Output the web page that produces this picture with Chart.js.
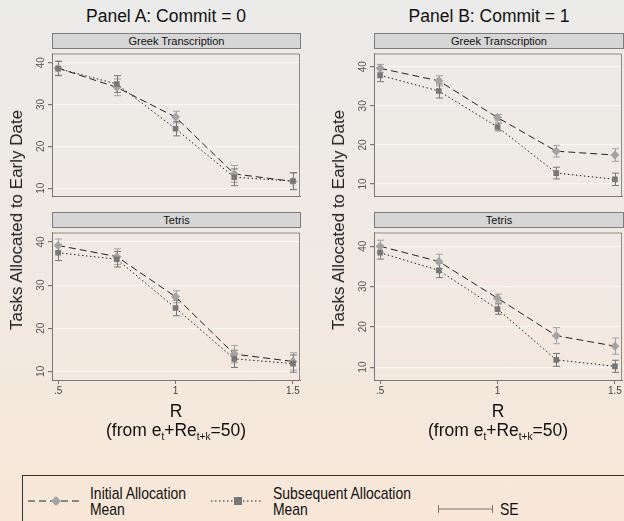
<!DOCTYPE html>
<html>
<head>
  <title>Tasks Allocated to Early Date</title>
  <script src="https://cdn.jsdelivr.net/npm/chart.js"></script>
  <style>
    body {
      margin: 0;
      width: 624px;
      height: 521px;
      overflow: hidden;
      position: relative;
      background: linear-gradient(to bottom, #ebebea 0%, #f1e9e2 55%, #f8e7d7 100%);
      font-family: "Liberation Sans", Arial, sans-serif;
      color: #111;
    }
    .abs { position: absolute; }
    canvas { position: absolute; }
    .title {
      font-size: 17.5px;
      white-space: nowrap;
      transform: translateX(-50%);
    }
    .strip {
      box-sizing: border-box;
      height: 16px;
      border: 1px solid #7c7c7c;
      background: #d6d6d6;
      font-size: 11px;
      line-height: 14px;
      text-align: center;
    }
    .ytitle {
      font-size: 17px;
      white-space: nowrap;
      color: #222;
      transform: translate(-50%, -50%) rotate(-90deg);
    }
    .xtitle {
      font-size: 17.5px;
      white-space: nowrap;
      transform: translateX(-50%);
      line-height: 19px;
      text-align: center;
    }
    .xtitle .sub { font-size: 10px; position: relative; top: 4px; }
    .legend {
      left: 22px;
      top: 475px;
      width: 640px;
      height: 60px;
      box-sizing: border-box;
      border: 1px solid #333;
    }
    .ltext {
      font-size: 17px;
      line-height: 16px;
      white-space: nowrap;
      transform: scaleX(0.82);
      transform-origin: 0 0;
    }
  </style>
</head>
<body>
  <div class="abs title" style="left:166px; top:6px;">Panel A: Commit = 0</div>
  <div class="abs title" style="left:489px; top:6px;">Panel B: Commit = 1</div>

  <div class="abs strip" style="left:52px; top:33px; width:249px;">Greek Transcription</div>
  <div class="abs strip" style="left:52px; top:212px; width:249px;">Tetris</div>
  <div class="abs strip" style="left:374px; top:33px; width:250px;">Greek Transcription</div>
  <div class="abs strip" style="left:374px; top:212px; width:250px;">Tetris</div>

  <canvas id="aGreek" width="284" height="152" style="left:22px; top:49px;"></canvas>
  <canvas id="aTetris" width="284" height="174" style="left:22px; top:228px;"></canvas>
  <canvas id="bGreek" width="284" height="152" style="left:344px; top:49px;"></canvas>
  <canvas id="bTetris" width="284" height="174" style="left:344px; top:228px;"></canvas>

  <div class="abs ytitle" style="left:17px; top:220px;">Tasks Allocated to Early Date</div>
  <div class="abs ytitle" style="left:339px; top:220px;">Tasks Allocated to Early Date</div>

  <div class="abs xtitle" style="left:176px; top:402px;">R<br>(from e<span class="sub">t</span>+Re<span class="sub">t+k</span>=50)</div>
  <div class="abs xtitle" style="left:498px; top:402px;">R<br>(from e<span class="sub">t</span>+Re<span class="sub">t+k</span>=50)</div>

  <div class="abs legend"></div>
  <svg class="abs" style="left:0; top:480px;" width="624" height="41">
    <line x1="28" y1="21" x2="82" y2="21" stroke="#222" stroke-width="1" stroke-dasharray="7,4"/>
    <polygon points="56,16 61,21 56,26 51,21" fill="#a3a3a3"/>
    <line x1="211" y1="21" x2="263" y2="21" stroke="#222" stroke-width="1" stroke-dasharray="1.5,2.5"/>
    <rect x="234" y="17" width="8" height="8" fill="#777"/>
    <line x1="438" y1="29" x2="493" y2="29" stroke="#777" stroke-width="1"/>
    <line x1="438.5" y1="25" x2="438.5" y2="33" stroke="#777" stroke-width="1"/>
    <line x1="492.5" y1="25" x2="492.5" y2="33" stroke="#777" stroke-width="1"/>
  </svg>
  <div class="abs ltext" style="left:90px; top:486px;">Initial Allocation<br>Mean</div>
  <div class="abs ltext" style="left:273px; top:486px;">Subsequent Allocation<br>Mean</div>
  <div class="abs ltext" style="left:500px; top:502px;">SE</div>

  <script>
    // values
    const rValues = [0.5, 0.75, 1, 1.25, 1.5];
    const xTicks = [0.5, 1, 1.5];
    const xTickLabels = ['.5', '1', '1.5'];
    const yTicks = [10, 20, 30, 40];

    const greekInitialC0 = [38.7, 34.1, 27.0, 13.4, 11.6];
    const greekInitialC0Se = [1.7, 2.0, 1.4, 2.0, 2.0];
    const greekSubsequentC0 = [38.6, 34.9, 24.2, 12.6, 11.7];
    const greekSubsequentC0Se = [1.7, 2.0, 1.7, 2.0, 2.0];

    const tetrisInitialC0 = [39.2, 36.6, 27.3, 14.0, 12.3];
    const tetrisInitialC0Se = [1.5, 1.8, 1.4, 2.0, 2.0];
    const tetrisSubsequentC0 = [37.5, 36.0, 24.7, 12.9, 11.8];
    const tetrisSubsequentC0Se = [1.8, 1.8, 1.8, 2.0, 2.0];

    const greekInitialC1 = [39.6, 36.4, 27.0, 18.4, 17.4];
    const greekInitialC1Se = [1.0, 1.3, 0.8, 1.5, 1.6];
    const greekSubsequentC1 = [37.8, 33.8, 24.6, 12.8, 11.2];
    const greekSubsequentC1Se = [1.6, 1.8, 1.0, 1.5, 1.6];

    const tetrisInitialC1 = [40.0, 36.2, 27.1, 17.8, 15.2];
    const tetrisInitialC1Se = [1.5, 1.8, 1.0, 2.0, 2.0];
    const tetrisSubsequentC1 = [38.4, 34.0, 24.4, 11.8, 10.2];
    const tetrisSubsequentC1Se = [1.6, 1.8, 1.3, 1.6, 1.5];

    // SE caps, drawn under the markers
    const errorBars = {
      id: 'errorBars',
      beforeDatasetsDraw(chart) {
        const ctx = chart.ctx;
        const xs = chart.scales.x, ys = chart.scales.y;
        chart.data.datasets.forEach(ds => {
          ctx.save();
          ctx.strokeStyle = ds.seColor;
          ctx.lineWidth = 1;
          ds.data.forEach((p, i) => {
            const x = Math.round(xs.getPixelForValue(p.x)) + 0.5;
            const top = ys.getPixelForValue(p.y + ds.se[i]);
            const bot = ys.getPixelForValue(p.y - ds.se[i]);
            ctx.beginPath();
            ctx.moveTo(x, top); ctx.lineTo(x, bot);
            ctx.moveTo(x - 3.5, top); ctx.lineTo(x + 3.5, top);
            ctx.moveTo(x - 3.5, bot); ctx.lineTo(x + 3.5, bot);
            ctx.stroke();
          });
          ctx.restore();
        });
      }
    };

    // stata style: y labels turned sideways, plus the plot outline
    const sideLabels = {
      id: 'sideLabels',
      afterDraw(chart) {
        const ctx = chart.ctx;
        const ys = chart.scales.y;
        const area = chart.chartArea;
        ctx.save();
        ctx.strokeStyle = '#8a8a8a';
        ctx.lineWidth = 1;
        ctx.beginPath();
        ctx.moveTo(area.left, area.top + 0.5);
        ctx.lineTo(area.right - 0.5, area.top + 0.5);
        ctx.lineTo(area.right - 0.5, area.bottom);
        ctx.stroke();
        ctx.fillStyle = '#555';
        ctx.font = '10px "Liberation Sans", Arial, sans-serif';
        ctx.textAlign = 'center';
        ctx.textBaseline = 'middle';
        yTicks.forEach(v => {
          ctx.save();
          ctx.translate(area.left - 11, ys.getPixelForValue(v));
          ctx.rotate(-Math.PI / 2);
          ctx.fillText(String(v), 0, 0);
          ctx.restore();
        });
        ctx.restore();
      }
    };

    function points(values) {
      return rValues.map((r, i) => ({ x: r, y: values[i] }));
    }

    function makePanel(id, initial, initialSe, subsequent, subsequentSe, yMin, yMax, showX) {
      new Chart(document.getElementById(id), {
        type: 'line',
        data: {
          datasets: [
            {
              label: 'Initial Allocation Mean',
              data: points(initial),
              se: initialSe,
              seColor: '#a2a2a2',
              order: 1,
              borderColor: '#222',
              borderWidth: 1,
              borderDash: [7, 4],
              pointStyle: 'rectRot',
              pointRadius: 4.5,
              pointBackgroundColor: '#a3a3a3',
              pointBorderWidth: 0,
              fill: false
            },
            {
              label: 'Subsequent Allocation Mean',
              data: points(subsequent),
              se: subsequentSe,
              seColor: '#777',
              order: 0,
              borderColor: '#222',
              borderWidth: 1,
              borderDash: [1.5, 2.5],
              pointStyle: 'rect',
              pointRadius: 4,
              pointBackgroundColor: '#777',
              pointBorderWidth: 0,
              fill: false
            }
          ]
        },
        options: {
          responsive: false,
          animation: false,
          events: [],
          layout: { padding: { top: 0, right: 6, bottom: showX ? 0 : 1, left: 0 } },
          plugins: { legend: { display: false }, tooltip: { enabled: false } },
          scales: {
            x: {
              type: 'linear',
              min: 0.474,
              max: 1.53,
              afterBuildTicks: s => { s.ticks = xTicks.map(v => ({ value: v })); },
              afterFit: s => { s.height = showX ? 22 : 0; },
              ticks: {
                display: showX,
                padding: 1,
                color: '#444',
                font: { family: '"Liberation Sans", Arial, sans-serif', size: 10 },
                callback: v => xTickLabels[xTicks.indexOf(v)]
              },
              grid: { drawOnChartArea: false, drawTicks: showX, tickLength: 4, tickColor: '#777' },
              border: { color: '#777' }
            },
            y: {
              min: yMin,
              max: yMax,
              afterBuildTicks: s => { s.ticks = yTicks.map(v => ({ value: v })); },
              afterFit: s => { s.width = 30; },
              ticks: { display: false },
              grid: { color: '#f7f7f5', lineWidth: 1.2, drawTicks: true, tickLength: 4, tickColor: '#777' },
              border: { color: '#777' }
            }
          }
        },
        plugins: [errorBars, sideLabels]
      });
    }

    makePanel('aGreek', greekInitialC0, greekInitialC0Se, greekSubsequentC0, greekSubsequentC0Se, 8.0, 42.2, false);
    makePanel('aTetris', tetrisInitialC0, tetrisInitialC0Se, tetrisSubsequentC0, tetrisSubsequentC0Se, 8.0, 42.2, true);
    makePanel('bGreek', greekInitialC1, greekInitialC1Se, greekSubsequentC1, greekSubsequentC1Se, 6.8, 43.4, false);
    makePanel('bTetris', tetrisInitialC1, tetrisInitialC1Se, tetrisSubsequentC1, tetrisSubsequentC1Se, 6.8, 43.4, true);
  </script>
</body>
</html>
